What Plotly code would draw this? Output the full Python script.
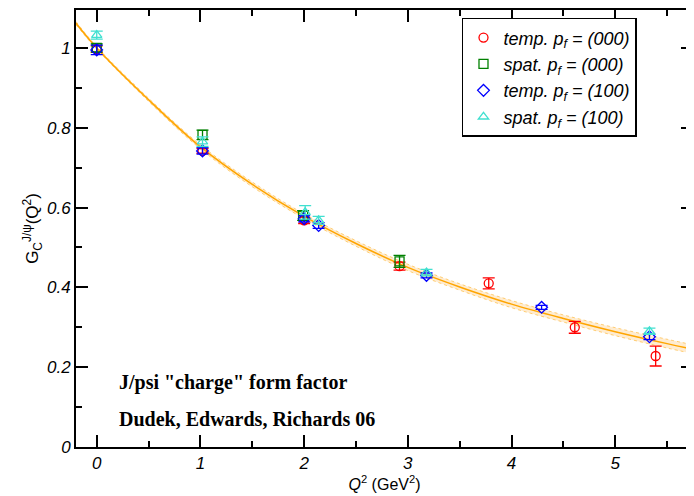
import plotly.graph_objects as go

# --- data ---
q2_temp000 = [0.0, 1.02, 2.00, 2.92, 3.78, 4.61, 5.39]
g_temp000 = [0.997, 0.742, 0.568, 0.453, 0.410, 0.300, 0.228]
e_temp000 = [0.008, 0.006, 0.008, 0.010, 0.014, 0.015, 0.025]

q2_spat000 = [0.0, 1.02, 1.99, 2.92]
g_spat000 = [1.000, 0.782, 0.580, 0.465]
e_spat000 = [0.010, 0.012, 0.012, 0.015]

q2_temp100 = [0.0, 1.02, 2.00, 2.14, 3.18, 4.29, 5.33]
g_temp100 = [0.995, 0.742, 0.572, 0.555, 0.430, 0.350, 0.276]
e_temp100 = [0.012, 0.008, 0.008, 0.007, 0.006, 0.005, 0.007]

q2_spat100 = [0.0, 1.02, 2.01, 2.14, 3.18, 5.33]
g_spat100 = [1.032, 0.765, 0.588, 0.568, 0.437, 0.290]
e_spat100 = [0.010, 0.012, 0.017, 0.010, 0.008, 0.008]

# fit curve and band
fit_q2 = [-0.2, 0.0, 0.5, 1.0, 1.5, 2.0, 2.5, 3.0, 3.5, 4.0, 4.5, 5.0, 5.5, 5.75]
fit_g = [1.062, 1.000, 0.870, 0.752, 0.658, 0.578, 0.510, 0.450, 0.401, 0.358, 0.322, 0.289, 0.259, 0.245]
fit_hi = [1.066, 1.003, 0.874, 0.757, 0.664, 0.584, 0.517, 0.458, 0.409, 0.367, 0.331, 0.299, 0.270, 0.256]
fit_lo = [1.058, 0.997, 0.866, 0.747, 0.652, 0.572, 0.503, 0.442, 0.393, 0.349, 0.313, 0.279, 0.248, 0.234]

series = [
    ("temp. p<sub>f</sub> = (000)", q2_temp000, g_temp000, e_temp000, "circle-open", "#ff0000"),
    ("spat. p<sub>f</sub> = (000)", q2_spat000, g_spat000, e_spat000, "square-open", "#008000"),
    ("temp. p<sub>f</sub> = (100)", q2_temp100, g_temp100, e_temp100, "diamond-open", "#0000ff"),
    ("spat. p<sub>f</sub> = (100)", q2_spat100, g_spat100, e_spat100, "triangle-up-open", "#40e0d0"),
]

fig = go.Figure()

# band
fig.add_trace(go.Scatter(x=fit_q2, y=fit_hi, mode="lines", line=dict(color="rgba(255,165,0,0.5)", width=1, dash="dot", shape="spline"),
                         showlegend=False, hoverinfo="skip"))
fig.add_trace(go.Scatter(x=fit_q2, y=fit_lo, mode="lines", line=dict(color="rgba(255,165,0,0.5)", width=1, dash="dot", shape="spline"),
                         fill="tonexty", fillcolor="rgba(255,200,120,0.35)", showlegend=False, hoverinfo="skip"))
fig.add_trace(go.Scatter(x=fit_q2, y=fit_g, mode="lines", line=dict(color="#ffa500", width=1.5, shape="spline"),
                         showlegend=False, hoverinfo="skip"))

for name, xs, ys, es, sym, col in series:
    fig.add_trace(go.Scatter(
        x=xs, y=ys, mode="markers", name=name,
        marker=dict(symbol=sym, size=9, color=col, line=dict(width=1.3, color=col)),
        error_y=dict(type="data", array=es, visible=True, color=col, thickness=1.3, width=6),
    ))

fig.add_annotation(x=0.2, y=0.162, xref="x", yref="y", xanchor="left", yanchor="middle",
                   text="<b>J/psi \"charge\" form factor</b>", showarrow=False,
                   font=dict(family="Liberation Serif", size=20, color="black"))
fig.add_annotation(x=0.2, y=0.070, xref="x", yref="y", xanchor="left", yanchor="middle",
                   text="<b>Dudek, Edwards, Richards 06</b>", showarrow=False,
                   font=dict(family="Liberation Serif", size=20, color="black"))

axis_common = dict(showgrid=False, zeroline=False, showline=True, linecolor="black", linewidth=2,
                   mirror="allticks", ticks="inside", ticklen=12, tickwidth=1.5, tickcolor="black",
                   tickfont=dict(family="Liberation Sans", size=17, color="black", style="italic"))

fig.update_xaxes(range=[-0.2, 5.75], tickvals=[0, 1, 2, 3, 4, 5],
                 minor=dict(tickvals=[0.5, 1.5, 2.5, 3.5, 4.5, 5.5], ticklen=6, ticks="inside", tickcolor="black"),
                 title=dict(text="<i>Q</i><sup>2</sup> (GeV<sup>2</sup>)", standoff=4,
                            font=dict(family="Liberation Sans", size=16, color="black")),
                 **axis_common)
fig.update_yaxes(range=[0, 1.095], tickvals=[0, 0.2, 0.4, 0.6, 0.8, 1.0],
                 ticktext=["0", "0.2", "0.4", "0.6", "0.8", "1"],
                 minor=dict(tickvals=[0.1, 0.3, 0.5, 0.7, 0.9], ticklen=6, ticks="inside", tickcolor="black"),
                 title=dict(text="G<sub>C</sub><sup>J/ψ</sup>(Q<sup>2</sup>)", standoff=4,
                            font=dict(family="Liberation Sans", size=17, color="black")),
                 **axis_common)

fig.update_layout(
    width=686, height=488,
    margin=dict(l=68, r=1, t=2, b=49, autoexpand=False),
    paper_bgcolor="white", plot_bgcolor="white",
    legend=dict(x=0.6256, y=0.982, xanchor="left", yanchor="top", traceorder="normal",
                bgcolor="white", bordercolor="black", borderwidth=1.5,
                font=dict(family="Liberation Sans", size=18, color="black", style="italic"),
                itemwidth=30, tracegroupgap=0),
)

fig.write_html("out.html")
